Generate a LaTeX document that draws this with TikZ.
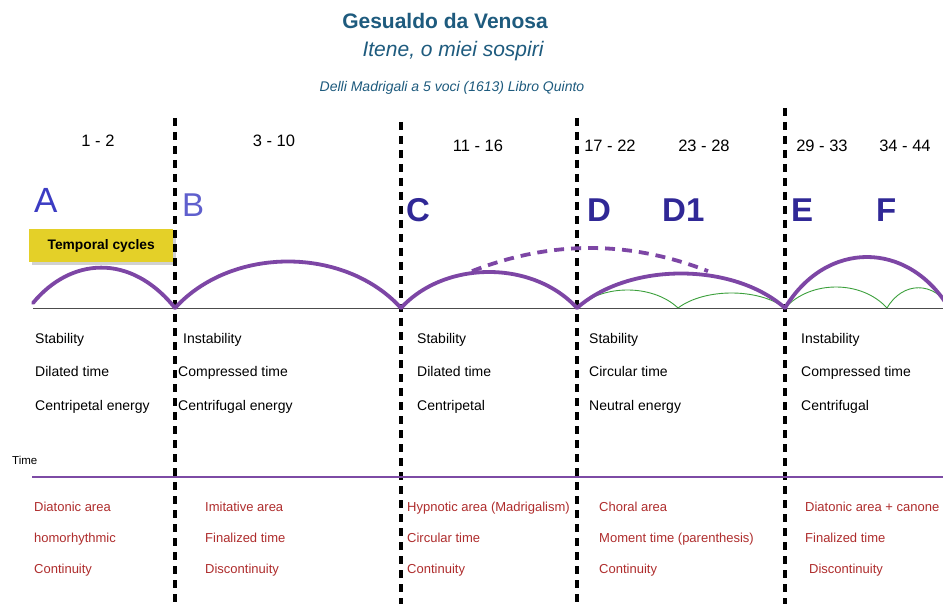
\documentclass[tikz,border=0pt]{standalone}
\usepackage{fontspec}
\setmainfont{Liberation Sans}
\usetikzlibrary{calc}
\definecolor{titleblue}{RGB}{30,91,126}
\definecolor{letterblue}{RGB}{48,40,150}
\definecolor{lettera}{RGB}{60,60,195}
\definecolor{letterb}{RGB}{95,95,205}
\definecolor{redtxt}{RGB}{175,45,45}
\definecolor{arcpurple}{RGB}{125,70,165}
\definecolor{timepurple}{RGB}{125,75,165}
\definecolor{boxyellow}{RGB}{228,208,40}
\definecolor{greenarc}{RGB}{60,160,60}
\tikzset{
  divider/.style={line width=3.2pt, dash pattern=on 8pt off 6pt, black},
  arcp/.style={line width=3.8pt, arcpurple, line cap=round},
  arcdash/.style={line width=3.8pt, arcpurple, dash pattern=on 10pt off 7pt},
  arcg/.style={line width=0.9pt, greenarc},
  blk/.style={anchor=base west, inner sep=0pt, font=\fontsize{14}{16}\selectfont, text=black},
  red/.style={anchor=base west, inner sep=0pt, font=\fontsize{13}{15}\selectfont, text=redtxt},
  num/.style={anchor=base, inner sep=0pt, font=\fontsize{16.5}{18}\selectfont, text=black},
  bigl/.style={anchor=base west, inner sep=0pt, font=\fontsize{33}{36}\selectfont\bfseries, text=letterblue}
}
\begin{document}
\begin{tikzpicture}[x=1pt,y=-1pt]
\useasboundingbox[fill=white] (0,0) rectangle (943,604);

% titles
\node[anchor=base, inner sep=0pt, font=\fontsize{21}{24}\selectfont\bfseries, text=titleblue] (title) at (445,29) {Gesualdo da Venosa};
\node[anchor=base, inner sep=0pt, font=\fontsize{21}{24}\selectfont\itshape, text=titleblue] (subtitle) at (453,57) {Itene, o miei sospiri};
\node[anchor=base, inner sep=0pt, font=\fontsize{14}{16}\selectfont\itshape, text=titleblue] (source) at (452,92) {Delli Madrigali a 5 voci (1613) Libro Quinto};

% bar numbers
\node[num] (n1) at (98,147) {1 - 2};
\node[num] (n2) at (274,147) {3 - 10};
\node[num] (n3) at (478,152) {11 - 16};
\node[num] (n4) at (610,152) {17 - 22};
\node[num] (n5) at (704,152) {23 - 28};
\node[num] (n6) at (822,152) {29 - 33};
\node[num] (n7) at (905,152) {34 - 44};

% dividers
\coordinate (d1t) at (175,118); \coordinate (d1b) at (175,604);
\coordinate (d2t) at (401,122); \coordinate (d2b) at (401,604);
\coordinate (d3t) at (577,118); \coordinate (d3b) at (577,604);
\coordinate (d4t) at (785,108); \coordinate (d4b) at (785,604);
\draw[divider] (d1t) -- (d1b);
\draw[divider] (d2t) -- (d2b);
\draw[divider] (d3t) -- (d3b);
\draw[divider] (d4t) -- (d4b);

% section letters
\node[anchor=base west, inner sep=0pt, font=\fontsize{35}{38}\selectfont, text=lettera] (lA) at (34,213) {A};
\node[anchor=base west, inner sep=0pt, font=\fontsize{33}{36}\selectfont, text=letterb] (lB) at (182,217) {B};
\node[bigl] (lC) at (406,222) {C};
\node[bigl] (lD) at (587,222) {D};
\node[bigl] (lD1) at (662,222) {D1};
\node[bigl] (lE) at (791,222) {E};
\node[bigl] (lF) at (876,222) {F};

% yellow box
\fill[black, opacity=0.18] (32,232) rectangle (176,265);
\node[draw=none, fill=boxyellow, minimum width=144pt, minimum height=33pt, inner sep=0pt, anchor=north west, font=\fontsize{13.8}{15}\selectfont\bfseries] (box) at (29,229) {Temporal cycles};

% baseline
\coordinate (bl0) at (33,308);
\coordinate (bl1) at (943,308);
\draw[line width=0.8pt, black!70] (bl0) -- (bl1);

% arc points
\coordinate (p0) at (33,303);
\coordinate (p1) at (175,308);
\coordinate (p2) at (401,308);
\coordinate (p3) at (577,308);
\coordinate (p4) at (785,308);
\coordinate (p5) at (949,308);
\coordinate (g1) at (678,308);
\coordinate (g2) at (887,308);
\coordinate (g3) at (950,308);

% green sub-arcs
\draw[arcg] (p3) .. controls ($(p3)!.25!(g1)+(0,-24)$) and ($(p3)!.75!(g1)+(0,-24)$) .. (g1);
\draw[arcg] (g1) .. controls ($(g1)!.25!(p4)+(0,-20)$) and ($(g1)!.75!(p4)+(0,-20)$) .. (p4);
\draw[arcg] (p4) .. controls ($(p4)!.25!(g2)+(0,-28)$) and ($(p4)!.75!(g2)+(0,-28)$) .. (g2);
\draw[arcg] (g2) .. controls ($(g2)!.25!(g3)+(0,-27)$) and ($(g2)!.75!(g3)+(0,-27)$) .. (g3);

% purple arcs
\draw[arcp] (p0) .. controls (70,258) and (130,252) .. (p1);
\draw[arcp] (p1) .. controls ($(p1)!.25!(p2)+(0,-62)$) and ($(p1)!.75!(p2)+(0,-62)$) .. (p2);
\draw[arcp] (p2) .. controls ($(p2)!.25!(p3)+(0,-48)$) and ($(p2)!.75!(p3)+(0,-48)$) .. (p3);
\draw[arcp] (p3) .. controls ($(p3)!.25!(p4)+(0,-46)$) and ($(p3)!.75!(p4)+(0,-46)$) .. (p4);
\draw[arcp] (p4) .. controls ($(p4)!.25!(p5)+(0,-68)$) and ($(p4)!.75!(p5)+(0,-68)$) .. (p5);

% dashed large arc (D spanning)
\draw[arcdash] plot[domain=472:708, samples=40] (\x, {308-60*(1-((\x-590)/190)^2)});

% descriptors
\node[blk] (a1) at (35,343) {Stability};
\node[blk] (a2) at (35,376) {Dilated time};
\node[blk] (a3) at (35,410) {Centripetal energy};
\node[blk] (b1) at (183,343) {Instability};
\node[blk] (b2) at (178,376) {Compressed time};
\node[blk] (b3) at (178,410) {Centrifugal energy};
\node[blk] (c1) at (417,343) {Stability};
\node[blk] (c2) at (417,376) {Dilated time};
\node[blk] (c3) at (417,410) {Centripetal};
\node[blk] (e1) at (589,343) {Stability};
\node[blk] (e2) at (589,376) {Circular time};
\node[blk] (e3) at (589,410) {Neutral energy};
\node[blk] (f1) at (801,343) {Instability};
\node[blk] (f2) at (801,376) {Compressed time};
\node[blk] (f3) at (801,410) {Centrifugal};

% time line
\node[anchor=base west, inner sep=0pt, font=\fontsize{11.5}{13}\selectfont] (time) at (12,464) {Time};
\coordinate (t0) at (32,477);
\coordinate (t1) at (943,477);
\draw[line width=2.4pt, timepurple] (t0) -- (t1);

% red descriptors
\node[red] (r11) at (34,511) {Diatonic area};
\node[red] (r12) at (34,542) {homorhythmic};
\node[red] (r13) at (34,573) {Continuity};
\node[red] (r21) at (205,511) {Imitative area};
\node[red] (r22) at (205,542) {Finalized time};
\node[red] (r23) at (205,573) {Discontinuity};
\node[red] (r31) at (407,511) {Hypnotic area (Madrigalism)};
\node[red] (r32) at (407,542) {Circular time};
\node[red] (r33) at (407,573) {Continuity};
\node[red] (r41) at (599,511) {Choral area};
\node[red] (r42) at (599,542) {Moment time (parenthesis)};
\node[red] (r43) at (599,573) {Continuity};
\node[red] (r51) at (805,511) {Diatonic area + canone};
\node[red] (r52) at (805,542) {Finalized time};
\node[red] (r53) at (809,573) {Discontinuity};
\end{tikzpicture}
\end{document}
